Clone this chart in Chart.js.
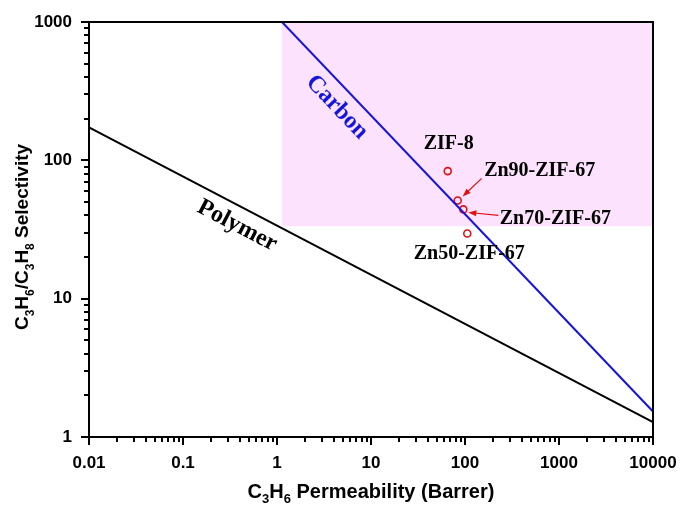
<!DOCTYPE html>
<html>
<head>
<meta charset="utf-8">
<script src="https://cdn.jsdelivr.net/npm/chart.js"></script>
<style>
  html, body { margin: 0; padding: 0; background: #fff; }
  #box { width: 683px; height: 508px; }
</style>
</head>
<body>
<div id="box"><canvas id="c3Chart"></canvas></div>
<script>
// axis ticks (log scales)
const xTicks = [0.01, 0.1, 1, 10, 100, 1000, 10000];
const yTicks = [1, 10, 100, 1000];

// upper bound lines
const polymerX = [0.01, 10000];
const polymerY = [173, 1.28];
const carbonX = [1.13, 10000];
const carbonY = [1000, 1.53];

// commercially attractive region
const regionX = [1.13, 10000];
const regionY = [33.4, 1000];

// membranes
const mofNames = ['ZIF-8', 'Zn90-ZIF-67', 'Zn70-ZIF-67', 'Zn50-ZIF-67'];
const mofX = [65.5, 83.6, 96, 105.8];
const mofY = [83.6, 51.3, 44.2, 29.6];

const SANS = "'Liberation Sans', Arial, sans-serif";
const SERIF = "'Liberation Serif', 'Times New Roman', serif";

const toPts = (xs, ys) => xs.map((x, i) => ({ x: x, y: ys[i] }));

// draws text made of [string, isSubscript] pieces, centred at 0,0
function subText(ctx, parts, size) {
    const big = 'bold ' + size + 'px ' + SANS;
    const small = 'bold ' + Math.round(size * 0.65) + 'px ' + SANS;
    let w = 0;
    parts.forEach(p => { ctx.font = p[1] ? small : big; w += ctx.measureText(p[0]).width; });
    let x = -w / 2;
    ctx.textAlign = 'left';
    ctx.textBaseline = 'middle';
    parts.forEach(p => {
        ctx.font = p[1] ? small : big;
        ctx.fillText(p[0], x, p[1] ? size * 0.38 : 0);
        x += ctx.measureText(p[0]).width;
    });
}

function arrow(ctx, x1, y1, x2, y2) {
    const a = Math.atan2(y2 - y1, x2 - x1);
    ctx.beginPath();
    ctx.moveTo(x1, y1);
    ctx.lineTo(x2 - 6 * Math.cos(a), y2 - 6 * Math.sin(a));
    ctx.stroke();
    ctx.beginPath();
    ctx.moveTo(x2, y2);
    ctx.lineTo(x2 - 8 * Math.cos(a) + 3 * Math.sin(a), y2 - 8 * Math.sin(a) - 3 * Math.cos(a));
    ctx.lineTo(x2 - 8 * Math.cos(a) - 3 * Math.sin(a), y2 - 8 * Math.sin(a) + 3 * Math.cos(a));
    ctx.closePath();
    ctx.fill();
}

// label along a line: t = fraction of the way, off = offset perpendicular (px)
function lineLabel(ctx, xs, ys, xScale, yScale, text, t, off, color) {
    const x1 = xScale.getPixelForValue(xs[0]), y1 = yScale.getPixelForValue(ys[0]);
    const x2 = xScale.getPixelForValue(xs[1]), y2 = yScale.getPixelForValue(ys[1]);
    const a = Math.atan2(y2 - y1, x2 - x1);
    const px = x1 + (x2 - x1) * t - Math.sin(a) * off;
    const py = y1 + (y2 - y1) * t + Math.cos(a) * off;
    ctx.save();
    ctx.translate(px, py);
    ctx.rotate(a);
    ctx.fillStyle = color;
    ctx.font = 'bold 24px ' + SERIF;
    ctx.textAlign = 'center';
    ctx.textBaseline = 'middle';
    ctx.fillText(text, 0, 0);
    ctx.restore();
}

const decor = {
    id: 'decor',
    beforeDatasetsDraw(chart) {
        const { ctx, scales: { x, y } } = chart;
        const l = x.getPixelForValue(regionX[0]), r = x.getPixelForValue(regionX[1]);
        const b = y.getPixelForValue(regionY[0]), t = y.getPixelForValue(regionY[1]);
        ctx.save();
        ctx.fillStyle = '#fce2fc';
        ctx.fillRect(l, t, r - l, b - t);
        ctx.restore();
    },
    afterDatasetsDraw(chart) {
        const { ctx, chartArea: ca, scales: { x, y } } = chart;
        ctx.save();
        // frame
        ctx.strokeStyle = '#000';
        ctx.lineWidth = 2;
        ctx.strokeRect(ca.left, ca.top, ca.right - ca.left, ca.bottom - ca.top);
        // ticks
        ctx.lineWidth = 2;
        ctx.beginPath();
        for (let d = 0.01; d < 10000; d *= 10) {
            for (let k = 1; k <= 10; k++) {
                const px = Math.round(x.getPixelForValue(d * k));
                const len = (k === 1 || k === 10) ? 8 : 5;
                ctx.moveTo(px, ca.bottom);
                ctx.lineTo(px, ca.bottom + len);
            }
        }
        for (let d = 1; d < 1000; d *= 10) {
            for (let k = 1; k <= 10; k++) {
                const py = Math.round(y.getPixelForValue(d * k));
                const len = (k === 1 || k === 10) ? 8 : 5;
                ctx.moveTo(ca.left, py);
                ctx.lineTo(ca.left - len, py);
            }
        }
        ctx.stroke();

        // line names
        lineLabel(ctx, carbonX, carbonY, x, y, 'Carbon', 0.185, 19, '#1414dc');
        lineLabel(ctx, polymerX, polymerY, x, y, 'Polymer', 0.278, 18.5, '#000');

        // membrane labels
        const offs = [[1, -27], [82, -29.5], [92, 9.5], [2, 20.5]];
        ctx.font = 'bold 20px ' + SERIF;
        ctx.fillStyle = '#000';
        ctx.textAlign = 'center';
        ctx.textBaseline = 'middle';
        mofNames.forEach((n, i) => {
            const px = x.getPixelForValue(mofX[i]), py = y.getPixelForValue(mofY[i]);
            ctx.fillText(n, px + offs[i][0], py + offs[i][1]);
        });
        // arrows to Zn90 and Zn70
        ctx.strokeStyle = '#e01010';
        ctx.fillStyle = '#e01010';
        ctx.lineWidth = 1.2;
        let px = x.getPixelForValue(mofX[1]), py = y.getPixelForValue(mofY[1]);
        arrow(ctx, px + 24, py - 22, px + 5, py - 4);
        px = x.getPixelForValue(mofX[2]); py = y.getPixelForValue(mofY[2]);
        arrow(ctx, px + 35, py + 6, px + 5, py + 3);

        // axis titles
        ctx.fillStyle = '#000';
        ctx.save();
        ctx.translate(23, 237);
        ctx.rotate(-Math.PI / 2);
        subText(ctx, [['C', 0], ['3', 1], ['H', 0], ['6', 1], ['/C', 0], ['3', 1], ['H', 0], ['8', 1], [' Selectivity', 0]], 19);
        ctx.restore();
        ctx.save();
        ctx.translate(371, 492);
        subText(ctx, [['C', 0], ['3', 1], ['H', 0], ['6', 1], [' Permeability (Barrer)', 0]], 20);
        ctx.restore();
        ctx.restore();
    }
};

const data = {
    datasets: [
        {
            label: 'Polymer',
            data: toPts(polymerX, polymerY),
            showLine: true,
            borderColor: '#000',
            borderWidth: 2,
            pointRadius: 0
        },
        {
            label: 'Carbon',
            data: toPts(carbonX, carbonY),
            showLine: true,
            borderColor: '#1414dc',
            borderWidth: 2,
            pointRadius: 0
        },
        {
            label: 'MOF',
            data: toPts(mofX, mofY),
            showLine: false,
            borderColor: '#e01010',
            backgroundColor: 'rgba(0,0,0,0)',
            borderWidth: 1.6,
            pointRadius: 3.5
        }
    ]
};

const config = {
    type: 'scatter',
    data: data,
    options: {
        responsive: true,
        maintainAspectRatio: false,
        animation: false,
        layout: { padding: { left: 0, top: 22, right: 30, bottom: 0 } },
        plugins: { legend: { display: false }, tooltip: { enabled: false } },
        scales: {
            x: {
                type: 'logarithmic',
                min: 0.01,
                max: 10000,
                grid: { display: false },
                border: { display: false },
                afterBuildTicks: s => { s.ticks = xTicks.map(v => ({ value: v })); },
                afterFit: s => { s.height = 71; s.paddingLeft = 0; s.paddingRight = 0; },
                ticks: {
                    autoSkip: false,
                    maxRotation: 0,
                    padding: 8,
                    color: '#000',
                    font: { family: SANS, size: 17, weight: 'bold' },
                    callback: v => String(v)
                }
            },
            y: {
                type: 'logarithmic',
                min: 1,
                max: 1000,
                grid: { display: false },
                border: { display: false },
                afterBuildTicks: s => { s.ticks = yTicks.map(v => ({ value: v })); },
                afterFit: s => { s.width = 89; s.paddingTop = 0; s.paddingBottom = 0; },
                ticks: {
                    autoSkip: false,
                    padding: 9,
                    color: '#000',
                    font: { family: SANS, size: 17, weight: 'bold' },
                    callback: v => String(v)
                }
            }
        }
    },
    plugins: [decor]
};

const initiateChart = () => {
    const ctx = document.getElementById('c3Chart').getContext('2d');
    chart = new Chart(ctx, config);
};

document.addEventListener('DOMContentLoaded', initiateChart);
</script>
</body>
</html>
